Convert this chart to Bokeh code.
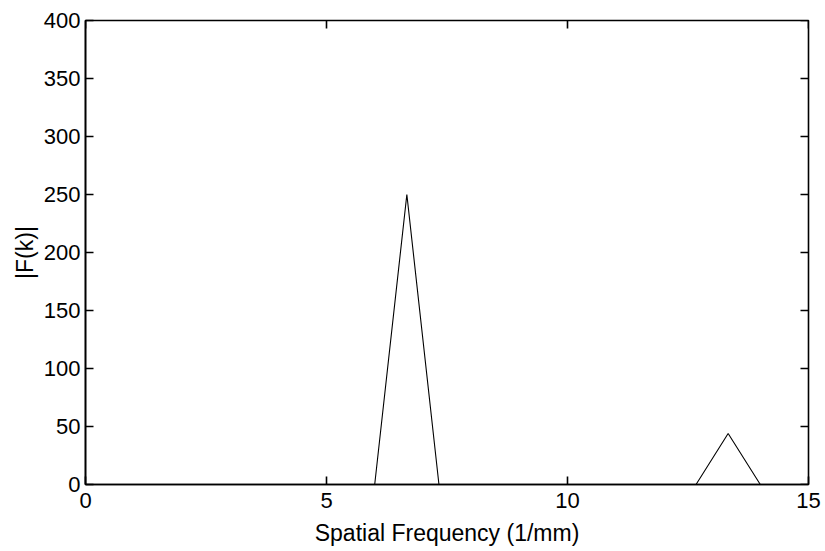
from bokeh.plotting import figure
from bokeh.models import FixedTicker, Range1d
from bokeh.embed import file_html
from bokeh.resources import INLINE

# Spatial frequency samples (1/mm) and spectrum magnitude |F(k)|
freq = [0.0, 0.667, 1.333, 2.0, 2.667, 3.333, 4.0, 4.667, 5.333, 6.0, 6.667,
        7.333, 8.0, 8.667, 9.333, 10.0, 10.667, 11.333, 12.0, 12.667, 13.333,
        14.0, 14.667, 15.0]
magnitude = [0, 0, 0, 0, 0, 0, 0, 0, 0, 0, 250,
             0, 0, 0, 0, 0, 0, 0, 0, 0, 44,
             0, 0, 0]

x_ticks = [0, 5, 10, 15]
y_ticks = [0, 50, 100, 150, 200, 250, 300, 350, 400]

FONT = "Liberation Sans"
X0, X1, Y0, Y1 = 0, 15, 0, 400
FW, FH = 723, 464
TICK = 8

p = figure(frame_width=FW, frame_height=FH,
           min_border_left=85, min_border_right=17,
           min_border_top=20, min_border_bottom=67,
           x_range=Range1d(X0, X1), y_range=Range1d(Y0, Y1),
           output_backend="svg", toolbar_location=None)

p.line(freq, magnitude, line_color="black", line_width=1.1)

p.xgrid.visible = False
p.ygrid.visible = False
p.outline_line_color = "black"
p.outline_line_width = 1.6
p.background_fill_color = "white"
p.border_fill_color = "white"

for ax, ticks in ((p.xaxis[0], x_ticks), (p.yaxis[0], y_ticks)):
    ax.ticker = FixedTicker(ticks=ticks)
    ax.minor_tick_line_color = None
    ax.major_tick_in = TICK
    ax.major_tick_out = 0
    ax.major_tick_line_color = "black"
    ax.major_tick_line_width = 1.6
    ax.axis_line_color = "black"
    ax.axis_line_width = 1.6
    ax.major_label_text_font = FONT
    ax.major_label_text_font_size = "22px"
    ax.major_label_text_color = "black"
    ax.axis_label_text_font = FONT
    ax.axis_label_text_font_size = "23px"
    ax.axis_label_text_font_style = "normal"
    ax.axis_label_text_color = "black"

p.xaxis[0].axis_label = "Spatial Frequency (1/mm)"
p.xaxis[0].major_label_standoff = 8
p.xaxis[0].axis_label_standoff = 9
p.yaxis[0].axis_label = "|F(k)|"
p.yaxis[0].major_label_standoff = 5
p.yaxis[0].axis_label_standoff = 3

# mirrored inward ticks on the top and right edges (box style)
dx = TICK * (X1 - X0) / FW
dy = TICK * (Y1 - Y0) / FH
p.segment(x0=x_ticks, y0=[Y1] * len(x_ticks), x1=x_ticks,
          y1=[Y1 - dy] * len(x_ticks), line_color="black", line_width=1.6)
p.segment(x0=[X1] * len(y_ticks), y0=y_ticks, x1=[X1 - dx] * len(y_ticks),
          y1=y_ticks, line_color="black", line_width=1.6)

open("out.html", "w").write(file_html(p, INLINE))
